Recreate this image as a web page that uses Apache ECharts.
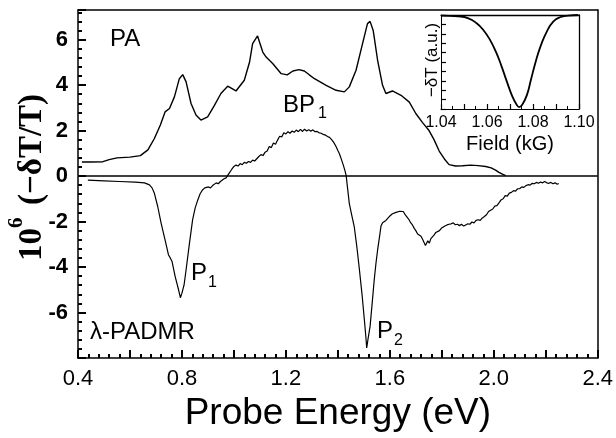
<!DOCTYPE html>
<html>
<head>
<meta charset="utf-8">
<script src="https://cdn.jsdelivr.net/npm/echarts@6/dist/echarts.min.js"></script>
<style>
  html, body { margin: 0; padding: 0; background: #fff; }
  #box { width: 616px; height: 438px; }
</style>
</head>
<body>
<div id="box"></div>
<script>
// PA spectrum (upper curve)
var paE = [0.415,0.45,0.496,0.52,0.55,0.6,0.64,0.669,0.694,0.717,0.735,0.752,0.771,0.79,0.803,0.816,0.835,0.854,0.873,0.899,0.925,0.95,0.976,1.008,1.04,1.06,1.072,1.091,1.111,1.124,1.15,1.182,1.205,1.227,1.25,1.271,1.29,1.31,1.355,1.393,1.425,1.444,1.47,1.495,1.514,1.524,1.536,1.553,1.572,1.585,1.61,1.643,1.675,1.70,1.726,1.751,1.77,1.79,1.81,1.828,1.853,1.88,1.911,1.94,1.969,1.99,2.007,2.02,2.033,2.046];
var paV = [0.62,0.62,0.63,0.72,0.8,0.83,0.9,1.15,1.65,2.24,2.82,2.97,3.48,4.28,4.46,4.14,3.19,2.68,2.46,2.60,3.11,3.63,3.95,3.74,4.21,5.0,5.82,6.16,5.45,5.23,4.94,4.5,4.45,4.62,4.68,4.62,4.45,4.28,3.99,3.77,3.70,3.92,4.65,5.82,6.7,6.8,6.4,5.09,3.99,3.63,3.74,3.55,3.25,2.75,2.35,2.0,1.6,1.1,0.75,0.5,0.44,0.45,0.48,0.46,0.42,0.36,0.26,0.16,0.08,0.02];

// lambda-PADMR spectrum (lower curve)
var padmrE = [0.438,0.5,0.56,0.62,0.656,0.675,0.685,0.694,0.707,0.72,0.735,0.748,0.755,0.762,0.774,0.787,0.794,0.80,0.808,0.816,0.829,0.841,0.851,0.861,0.87,0.88,
  0.888,0.895,0.902,0.91,0.918,0.925,0.932,0.94,0.948,0.955,0.962,0.97,0.978,0.985,0.992,1.0,1.008,1.016,1.024,1.032,1.04,1.048,1.056,1.064,1.072,1.08,1.088,1.096,1.104,1.112,1.12,1.128,1.136,1.144,1.152,1.16,1.168,1.176,1.184,1.192,1.2,1.208,1.216,1.224,1.232,1.24,1.248,1.256,1.264,1.272,1.28,1.288,1.296,1.304,1.312,1.32,1.328,1.336,1.344,1.352,1.36,1.368,1.376,1.384,1.392,1.40,1.406,1.414,1.421,1.427,1.432,
  1.438,1.444,1.453,1.463,1.473,1.483,1.493,1.502,1.508,1.511,1.517,1.524,1.532,1.54,1.547,1.553,1.56,1.566,
  1.572,1.578,1.585,1.592,1.598,1.604,1.61,1.617,1.624,1.631,1.638,1.645,1.652,1.659,1.666,1.673,1.68,1.687,1.694,1.7,1.707,1.713,1.72,1.726,1.732,1.737,1.741,1.746,1.752,1.758,1.764,1.77,1.777,1.784,1.791,1.798,1.805,1.812,1.82,1.828,1.836,1.844,1.852,1.86,1.868,1.876,1.884,1.892,1.9,1.908,1.916,1.924,1.932,1.94,1.948,1.956,1.964,1.972,1.98,1.988,1.996,2.004,2.012,2.02,2.028,2.036,2.044,2.052,2.06,2.068,2.076,2.084,2.092,2.1,2.108,2.116,2.124,2.132,2.14,2.148,2.156,2.164,2.172,2.18,2.188,2.196,2.204,2.212,2.22,2.228,2.236,2.244,2.25];
var padmrV = [-0.18,-0.21,-0.24,-0.27,-0.3,-0.39,-0.52,-0.76,-1.35,-2.08,-2.81,-3.46,-3.6,-3.76,-4.42,-5.0,-5.35,-5.15,-4.8,-4.12,-2.95,-1.93,-1.4,-1.05,-0.78,-0.6,
  -0.52,-0.58,-0.48,-0.52,-0.42,-0.45,-0.3,-0.34,-0.24,-0.27,-0.12,-0.08,0.06,0.1,0.3,0.42,0.48,0.44,0.55,0.5,0.6,0.56,0.64,0.6,0.7,0.66,0.76,0.86,0.94,0.9,1.05,1.1,1.3,1.25,1.45,1.4,1.58,1.75,1.72,1.9,1.85,1.95,1.88,1.98,1.92,2.02,1.95,2.05,1.96,2.06,1.98,2.04,1.97,2.03,1.95,1.96,1.9,1.88,1.83,1.8,1.74,1.7,1.6,1.48,1.32,1.12,0.98,0.72,0.48,0.25,0.02,
  -0.6,-1.2,-1.7,-2.22,-3.1,-4.12,-5.2,-6.32,-7.1,-7.56,-7.1,-6.61,-5.6,-4.56,-3.8,-3.25,-2.7,-2.2,
  -2.05,-2.1,-1.95,-1.9,-1.78,-1.82,-1.66,-1.7,-1.6,-1.63,-1.55,-1.6,-1.56,-1.7,-1.78,-1.9,-2.05,-2.15,-2.3,-2.4,-2.55,-2.55,-2.65,-2.78,-2.7,-3.05,-3.1,-2.85,-2.95,-2.75,-2.72,-2.6,-2.48,-2.52,-2.4,-2.3,-2.38,-2.2,-2.15,-2.12,-2.1,-2.06,-2.14,-2.12,-2.18,-2.12,-2.2,-2.15,-2.1,-2.12,-2.02,-2.06,-1.95,-1.92,-1.95,-1.84,-1.78,-1.7,-1.56,-1.5,-1.45,-1.32,-1.3,-1.18,-1.05,-1.0,-0.86,-0.88,-0.75,-0.72,-0.64,-0.66,-0.56,-0.55,-0.48,-0.5,-0.42,-0.38,-0.4,-0.32,-0.34,-0.28,-0.32,-0.26,-0.3,-0.24,-0.3,-0.32,-0.28,-0.34,-0.3,-0.36,-0.33];

// inset: resonance vs field
var fieldKG = [1.0403,1.0475,1.0519,1.0555,1.0584,1.0613,1.0638,1.0661,1.0686,1.071,1.0729,1.074,1.0753,1.0773,1.0791,1.0812,1.0835,1.086,1.0888,1.0917,1.0953,1.0997];
var signal = [-0.006,-0.014,-0.035,-0.088,-0.159,-0.265,-0.388,-0.53,-0.706,-0.865,-0.954,-0.979,-0.954,-0.855,-0.689,-0.494,-0.318,-0.176,-0.07,-0.024,-0.006,0];

function pairs(xs, ys){
    return xs.map(function(x, i){ return [x, ys[i]]; });
}

var sans = 'Liberation Sans, Arial, sans-serif';
var serif = 'Liberation Serif, Times New Roman, serif';
var black = '#000';

// plain axis used only as a frame edge (top / right)
function frameAxis(extra){
    var a = {
        type: 'value',
        axisLine: { show: true, onZero: false, lineStyle: { color: black, width: 1.5 } },
        axisTick: { show: false },
        axisLabel: { show: false },
        splitLine: { show: false }
    };
    for (var k in extra) a[k] = extra[k];
    return a;
}

var myChart = echarts.init(document.getElementById('box'));

var option = {
    animation: false,
    grid: [
        { left: 78, top: 10, width: 521, height: 348 },
        { left: 441, top: 15, width: 138, height: 94 }
    ],
    xAxis: [
        {
            type: 'value', gridIndex: 0, min: 0.4, max: 2.4, interval: 0.2, position: 'bottom',
            axisLine: { show: true, onZero: false, lineStyle: { color: black, width: 1.5 } },
            axisTick: { show: true, inside: true, length: 8, lineStyle: { color: black, width: 2 } },
            minorTick: { show: true, splitNumber: 5, length: 4, lineStyle: { color: black, width: 2 } },
            splitLine: { show: false },
            axisLabel: {
                margin: 10, fontSize: 22, color: black, fontFamily: sans,
                formatter: function(v){ return Math.round(v * 10) % 4 === 0 ? v.toFixed(1) : ''; }
            },
            name: 'Probe Energy (eV)', nameLocation: 'middle', nameGap: 30,
            nameTextStyle: { fontSize: 37, color: black, fontFamily: sans }
        },
        frameAxis({ gridIndex: 0, min: 0.4, max: 2.4, position: 'top' }),
        {
            type: 'value', gridIndex: 1, min: 1.04, max: 1.10, interval: 0.01, position: 'bottom',
            axisLine: { show: true, onZero: false, lineStyle: { color: black } },
            axisTick: { show: true, inside: true, length: 5, lineStyle: { color: black, width: 1.2 } },
            minorTick: { show: true, splitNumber: 2, length: 3, lineStyle: { color: black } },
            splitLine: { show: false },
            axisLabel: {
                margin: 6, fontSize: 16, color: black, fontFamily: sans,
                formatter: function(v){ return Math.round(v * 100) % 2 === 0 ? v.toFixed(2) : ''; }
            },
            name: 'Field (kG)', nameLocation: 'middle', nameGap: 25,
            nameTextStyle: { fontSize: 20, color: black, fontFamily: sans }
        },
        frameAxis({ gridIndex: 1, min: 1.04, max: 1.10, position: 'top', axisLine: { show: true, onZero: false, lineStyle: { color: black, width: 1.3 } } })
    ],
    yAxis: [
        {
            type: 'value', gridIndex: 0, min: -8, max: 7.3, interval: 2, position: 'left',
            axisLine: { show: true, onZero: false, lineStyle: { color: black, width: 1.5 } },
            axisTick: { show: true, inside: true, length: 8, lineStyle: { color: black, width: 2 } },
            splitLine: { show: false },
            axisLabel: {
                margin: 10, fontSize: 22, fontWeight: 'bold', color: black, fontFamily: sans,
                formatter: function(v){ return (v >= -6 && v <= 6) ? String(v) : ''; }
            }
        },
        {
            type: 'value', gridIndex: 0, min: -8, max: 7.3, interval: 0.4, position: 'left',
            axisLine: { show: false, onZero: false },
            axisTick: { show: true, inside: true, length: 4, lineStyle: { color: black, width: 2 } },
            splitLine: { show: false },
            axisLabel: { show: false }
        },
        frameAxis({ gridIndex: 0, min: -8, max: 7.3, position: 'right' }),
        {
            type: 'value', gridIndex: 1, min: -1, max: 0, interval: 0.1, position: 'left',
            axisLine: { show: true, onZero: false, lineStyle: { color: black } },
            axisTick: { show: true, inside: true, length: 5, lineStyle: { color: black, width: 1.2 } },
            splitLine: { show: false },
            axisLabel: { show: false }
        },
        frameAxis({ gridIndex: 1, min: -1, max: 0, position: 'right', axisLine: { show: true, onZero: false, lineStyle: { color: black, width: 1.3 } } })
    ],
    series: [
        {
            name: 'PA', type: 'line', xAxisIndex: 0, yAxisIndex: 0,
            data: pairs(paE, paV), showSymbol: false, symbol: 'none',
            lineStyle: { color: black, width: 1.4 },
            markLine: {
                silent: true, symbol: 'none', label: { show: false },
                lineStyle: { color: black, width: 1.5, type: 'solid' },
                data: [{ yAxis: 0 }]
            }
        },
        {
            name: 'PADMR', type: 'line', xAxisIndex: 0, yAxisIndex: 0,
            data: pairs(padmrE, padmrV), showSymbol: false, symbol: 'none',
            lineStyle: { color: black, width: 1.2 }
        },
        {
            name: 'inset', type: 'line', xAxisIndex: 2, yAxisIndex: 3,
            data: pairs(fieldKG, signal), showSymbol: false, symbol: 'none', smooth: true,
            lineStyle: { color: black, width: 1.8 }
        }
    ],
    graphic: [
        // y axis title, rotated: 10^6 (−δT/T)
        {
            type: 'group', x: 32, y: 261, rotation: Math.PI / 2,
            children: [
                { type: 'text', x: 0, y: 0, style: { text: '10', font: 'bold 33px ' + serif, fill: black, align: 'left', verticalAlign: 'middle' } },
                { type: 'text', x: 33, y: -15, style: { text: '6', font: 'bold 21px ' + serif, fill: black, align: 'left', verticalAlign: 'middle' } },
                { type: 'text', x: 56, y: 0, style: { text: '(\u2212\u03b4T/T)', font: 'bold 33px ' + serif, fill: black, align: 'left', verticalAlign: 'middle' } }
            ]
        },
        // inset y title
        {
            type: 'text', x: 432, y: 60, rotation: Math.PI / 2,
            style: { text: '\u2212\u03b4T (a.u.)', font: '17px ' + sans, fill: black, align: 'center', verticalAlign: 'middle' }
        },
        { type: 'text', x: 110, y: 39, style: { text: 'PA', font: '24px ' + sans, fill: black, verticalAlign: 'middle' } },
        { type: 'text', x: 283, y: 105, style: { text: 'BP', font: '24px ' + sans, fill: black, verticalAlign: 'middle' } },
        { type: 'text', x: 318, y: 114, style: { text: '1', font: '16px ' + sans, fill: black, verticalAlign: 'middle' } },
        { type: 'text', x: 191, y: 273, style: { text: 'P', font: '24px ' + sans, fill: black, verticalAlign: 'middle' } },
        { type: 'text', x: 208, y: 283, style: { text: '1', font: '16px ' + sans, fill: black, verticalAlign: 'middle' } },
        { type: 'text', x: 377, y: 331, style: { text: 'P', font: '24px ' + sans, fill: black, verticalAlign: 'middle' } },
        { type: 'text', x: 394, y: 341, style: { text: '2', font: '16px ' + sans, fill: black, verticalAlign: 'middle' } },
        { type: 'text', x: 90, y: 332, style: { text: '\u03bb-PADMR', font: '24px ' + sans, fill: black, verticalAlign: 'middle' } }
    ]
};

myChart.setOption(option);
</script>
</body>
</html>
